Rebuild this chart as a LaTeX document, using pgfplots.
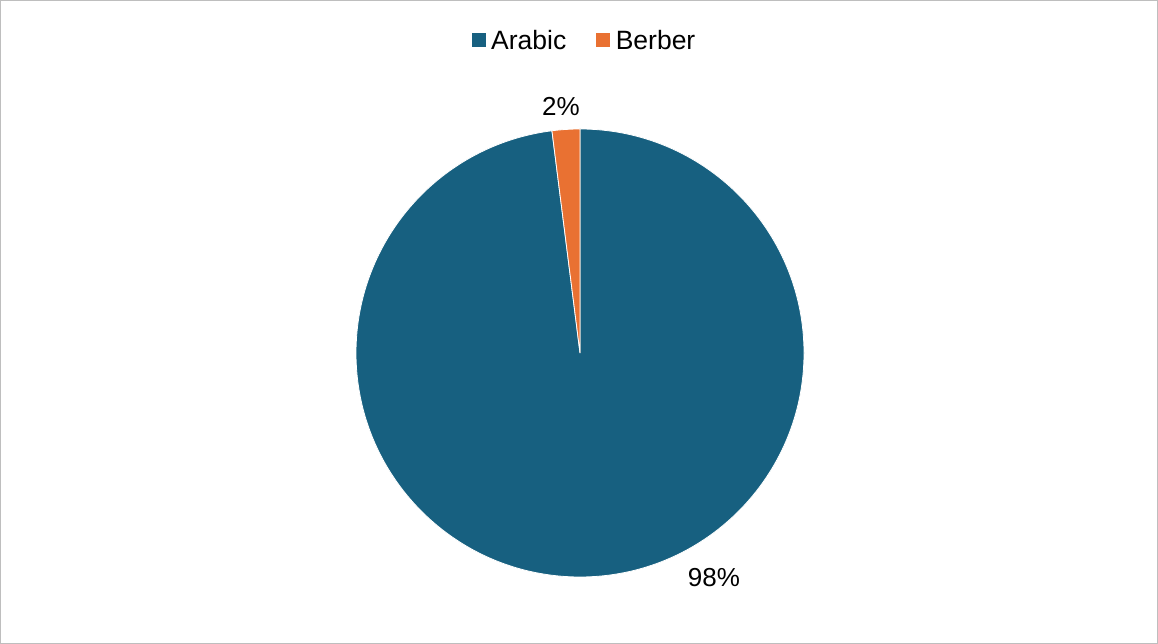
\documentclass[border=0pt]{standalone}
\usepackage{pgfplots}
\usepackage{pgfplotstable}
\pgfplotsset{compat=1.18}
\usepackage{fontspec}
\setmainfont{Liberation Sans}
\definecolor{arabic}{RGB}{23,96,128}
\definecolor{berber}{RGB}{233,113,50}
\definecolor{frame}{RGB}{190,190,190}
\pgfplotstableread{
label value
Arabic 98
Berber 2
}\piedata
\begin{document}
\begin{tikzpicture}
\pgfplotstablegetelem{0}{value}\of\piedata \let\va\pgfplotsretval
\pgfplotstablegetelem{1}{value}\of\piedata \let\vb\pgfplotsretval
\pgfmathsetmacro{\aend}{90-3.6*\va}
\pgfmathsetmacro{\bend}{\aend-3.6*\vb}
\begin{axis}[
  x=1pt, y=1pt, scale only axis,
  xmin=0, xmax=1158, ymin=0, ymax=644,
  hide axis, clip=false,
  legend style={at={(axis cs:584.5,603)}, anchor=center, draw=none, fill=none,
    font=\fontsize{26.5}{30}\selectfont,
    /tikz/every odd column/.append style={column sep=3.5pt},
    /tikz/every even column/.append style={column sep=28pt}},
  legend columns=-1,
  legend image code/.code={\fill[#1, draw=none] (0pt,-6pt) rectangle (14pt,8pt);},
]
\draw[frame, line width=1pt] (axis cs:0.5,0.5) rectangle (axis cs:1157.5,643.5);
\addlegendimage{fill=arabic, draw=none}
\addlegendentry{Arabic}
\addlegendimage{fill=berber, draw=none}
\addlegendentry{Berber}
\filldraw[fill=arabic, draw=white, line width=0.8pt] (axis cs:580,291) -- ++(90:224pt) arc[start angle=90, end angle=\aend, radius=224pt] -- cycle;
\filldraw[fill=berber, draw=white, line width=0.8pt] (axis cs:580,291) -- ++(\aend:224pt) arc[start angle=\aend, end angle=\bend, radius=224pt] -- cycle;
\node[font=\fontsize{26}{30}\selectfont] at (axis cs:561,537) {\vb\%};
\node[font=\fontsize{26}{30}\selectfont] at (axis cs:714,66) {\va\%};
\end{axis}
\end{tikzpicture}
\end{document}
